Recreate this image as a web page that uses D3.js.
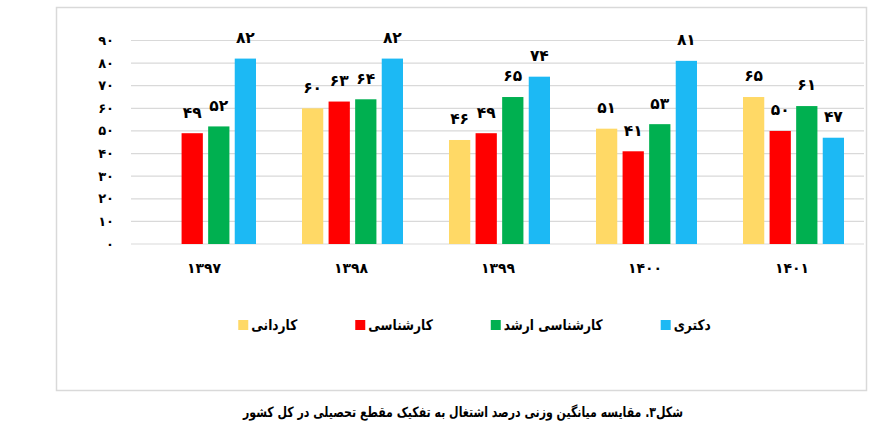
<!DOCTYPE html>
<html>
<head>
<meta charset="utf-8">
<script src="https://cdn.jsdelivr.net/npm/d3@7"></script>
<style>
  body { margin: 0; background: #fff; }
  text { font-family: "DejaVu Sans", "Noto Sans", sans-serif; font-weight: bold; fill: #000; }
</style>
</head>
<body>
<div id="chart"></div>
<script>
// years on the x axis
const years = ["۱۳۹۷", "۱۳۹۸", "۱۳۹۹", "۱۴۰۰", "۱۴۰۱"];
// series names (legend)
const seriesNames = ["کاردانی", "کارشناسی", "کارشناسی ارشد", "دکتری"];
const seriesColors = ["#FFD966", "#FF0000", "#00B050", "#1CB9F4"];
// values per series, one per year (null = no bar)
const kardani = [null, 60, 46, 51, 65];
const karshenasi = [49, 63, 49, 41, 50];
const arshad = [52, 64, 65, 53, 61];
const doktori = [82, 82, 74, 81, 47];
const yTicks = [0, 10, 20, 30, 40, 50, 60, 70, 80, 90];
const caption = "شکل۳. مقایسه میانگین وزنی درصد اشتغال به تفکیک مقطع تحصیلی در کل کشور";

const seriesValues = [kardani, karshenasi, arshad, doktori];

const width = 883, height = 448;
const faDigits = "۰۱۲۳۴۵۶۷۸۹";
const toFa = n => String(n).replace(/\d/g, c => faDigits[+c]);

// DejaVu is wider than the original font, squeeze text a bit
const squeeze = 0.84;
function narrow(sel) {
    sel.each(function () {
        const len = this.getComputedTextLength();
        d3.select(this)
            .attr("data-w", len * squeeze)
            .attr("textLength", len * squeeze)
            .attr("lengthAdjust", "spacingAndGlyphs");
    });
}

const svg = d3.select("#chart")
    .append("svg")
    .attr("width", width)
    .attr("height", height);

// outer frame
svg.append("rect")
    .attr("x", 56.5)
    .attr("y", 7.5)
    .attr("width", 810)
    .attr("height", 383)
    .attr("fill", "#fff")
    .attr("stroke", "#d9d9d9")
    .attr("stroke-width", 1.5);

const x0 = d3.scaleBand()
    .domain(years)
    .range([131, 866]);

const x1 = d3.scaleBand()
    .domain(seriesNames)
    .range([24, 125])
    .paddingInner(0.2);

const y = d3.scaleLinear()
    .domain([0, 90])
    .range([244, 40.5]);

// gridlines
svg.append("g")
    .selectAll("line")
    .data(yTicks)
    .join("line")
    .attr("x1", 131)
    .attr("x2", 864)
    .attr("y1", d => y(d))
    .attr("y2", d => y(d))
    .attr("stroke", "#d9d9d9")
    .attr("stroke-width", 1.2);

// y tick labels
svg.append("g")
    .selectAll("text")
    .data(yTicks)
    .join("text")
    .attr("x", 114)
    .attr("y", d => y(d))
    .attr("dy", "0.35em")
    .attr("text-anchor", "end")
    .attr("font-size", 13)
    .text(d => toFa(d));

// bars
const rows = years.flatMap((yr, i) => seriesNames.map((s, j) => ({
    year: yr, series: s, color: seriesColors[j], value: seriesValues[j][i]
}))).filter(d => d.value != null);

const barGroup = svg.append("g");
barGroup.selectAll("rect")
    .data(rows)
    .join("rect")
    .attr("x", d => x0(d.year) + x1(d.series))
    .attr("y", d => y(d.value))
    .attr("width", x1.bandwidth())
    .attr("height", d => y(0) - y(d.value))
    .attr("fill", d => d.color);

// value labels
barGroup.selectAll("text")
    .data(rows)
    .join("text")
    .attr("x", d => x0(d.year) + x1(d.series) + x1.bandwidth() / 2)
    .attr("y", d => y(d.value) - 21)
    .attr("dy", "0.35em")
    .attr("text-anchor", "middle")
    .attr("font-size", 15.5)
    .text(d => toFa(d.value));

// category labels
svg.append("g")
    .selectAll("text")
    .data(years)
    .join("text")
    .attr("x", d => x0(d) + x0.bandwidth() / 2 - 0.5)
    .attr("y", 268)
    .attr("dy", "0.35em")
    .attr("text-anchor", "middle")
    .attr("font-size", 14)
    .text(d => d);

// legend, laid out left to right from measured text widths
const legend = svg.append("g");
const items = legend.selectAll("g")
    .data(seriesNames)
    .join("g");
items.append("rect")
    .attr("width", 10)
    .attr("height", 10)
    .attr("y", -5)
    .attr("fill", (d, i) => seriesColors[i]);
items.append("text")
    .attr("x", 13)
    .attr("dy", "0.35em")
    .attr("font-size", 14.5)
    .text(d => d)
    .call(narrow);

let cursor = 0;
items.each(function () {
    const g = d3.select(this);
    const w = 13 + +g.select("text").attr("data-w");
    g.attr("transform", `translate(${cursor},0)`);
    cursor += w + 58;
});
const legendWidth = cursor - 58;
legend.attr("transform", `translate(${474.5 - legendWidth / 2},325)`);

// caption
svg.append("text")
    .attr("x", 463)
    .attr("y", 412)
    .attr("dy", "0.35em")
    .attr("text-anchor", "middle")
    .attr("font-size", 14)
    .text(caption)
    .each(function () {
        d3.select(this)
            .attr("textLength", 440)
            .attr("lengthAdjust", "spacingAndGlyphs");
    });
</script>
</body>
</html>
